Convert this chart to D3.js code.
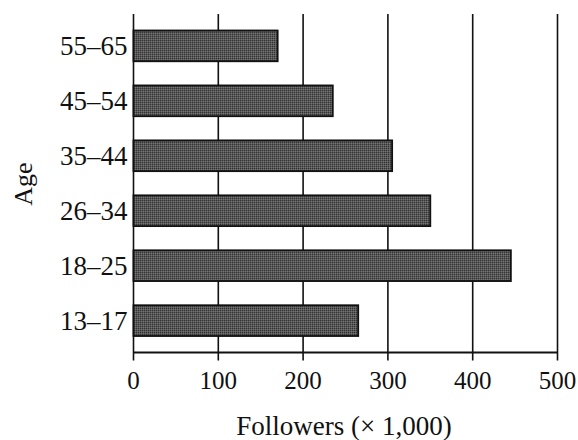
<!DOCTYPE html>
<html>
<head>
    <title>Followers by Age</title>
    <style>
        body { margin: 0; background: #ffffff; }
        #chart { display: block; }
        text { font-family: "Liberation Serif", "DejaVu Serif", serif; fill: #111; }
    </style>
    <script src="https://d3js.org/d3.v7.min.js"></script>
</head>
<body>
    <svg id="chart" width="578" height="440"></svg>
    <script>
        // data
        var ageGroups = ["13\u201317", "18\u201325", "26\u201334", "35\u201344", "45\u201354", "55\u201365"];
        var followers = [265, 445, 350, 305, 235, 170];
        var xTicks = [0, 100, 200, 300, 400, 500];

        var svg = d3.select("#chart");

        // stippled grey fill like the printed bars
        var pat = svg.append("defs").append("pattern")
            .attr("id", "stipple")
            .attr("width", 2).attr("height", 2)
            .attr("patternUnits", "userSpaceOnUse");
        pat.append("rect").attr("width", 2).attr("height", 2).attr("fill", "#585858");
        pat.append("rect").attr("width", 1).attr("height", 1).attr("fill", "#333");
        pat.append("rect").attr("x", 1).attr("y", 1).attr("width", 1).attr("height", 1).attr("fill", "#747474");

        var plotLeft = 133.5, plotRight = 557.5, plotTop = 14, plotBottom = 352.5;

        var x = d3.scaleLinear().domain([0, 500]).range([plotLeft, plotRight]);
        var y = d3.scaleBand()
            .domain(ageGroups.slice().reverse())
            .range([plotTop, plotBottom])
            .paddingInner(0.44)
            .paddingOuter(0.3);

        // vertical grid lines + tick marks below the axis
        svg.append("g").selectAll("line")
            .data(xTicks)
            .enter().append("line")
            .attr("x1", d => x(d)).attr("x2", d => x(d))
            .attr("y1", plotTop).attr("y2", plotBottom + 8)
            .attr("stroke", "#111")
            .attr("stroke-width", 1.6);

        // bottom axis line
        svg.append("line")
            .attr("x1", plotLeft).attr("x2", plotRight)
            .attr("y1", plotBottom).attr("y2", plotBottom)
            .attr("stroke", "#111")
            .attr("stroke-width", 1.8);

        // bars
        svg.append("g").selectAll("rect")
            .data(ageGroups)
            .enter().append("rect")
            .attr("x", x(0))
            .attr("y", d => y(d))
            .attr("width", (d, i) => x(followers[i]) - x(0))
            .attr("height", y.bandwidth())
            .attr("fill", "url(#stipple)")
            .attr("stroke", "#111")
            .attr("stroke-width", 1.8);

        // x tick labels
        svg.append("g").selectAll("text")
            .data(xTicks)
            .enter().append("text")
            .attr("x", d => x(d))
            .attr("y", 389)
            .attr("text-anchor", "middle")
            .style("font-size", "25px")
            .text(d => d);

        // y category labels
        svg.append("g").selectAll("text")
            .data(ageGroups)
            .enter().append("text")
            .attr("x", plotLeft - 6)
            .attr("y", d => y(d) + y.bandwidth() / 2)
            .attr("dy", "0.35em")
            .attr("text-anchor", "end")
            .style("font-size", "27px")
            .text(d => d);

        // axis titles
        svg.append("text")
            .attr("x", 344)
            .attr("y", 435)
            .attr("text-anchor", "middle")
            .style("font-size", "27px")
            .text("Followers (\u00d7 1,000)");

        svg.append("text")
            .attr("transform", "translate(32,184) rotate(-90)")
            .attr("text-anchor", "middle")
            .style("font-size", "26px")
            .text("Age");
    </script>
</body>
</html>
